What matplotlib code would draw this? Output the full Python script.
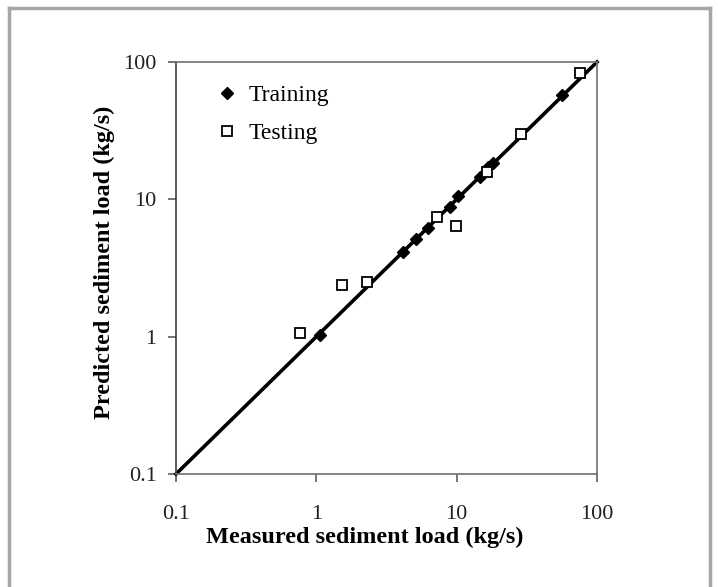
import matplotlib
matplotlib.use("Agg")
import matplotlib.pyplot as plt
from matplotlib.lines import Line2D

# Data
train_measured = [1.06, 4.12, 5.13, 6.2, 8.97, 10.3, 14.7, 16.8, 18.2, 56.0]
train_predicted = [1.03, 4.11, 5.12, 6.15, 8.83, 10.6, 14.6, 17.3, 18.3, 57.5]

test_measured = [0.765, 1.53, 2.28, 7.2, 9.84, 16.4, 28.6, 75.6]
test_predicted = [1.058, 2.38, 2.51, 7.4, 6.4, 15.9, 29.9, 82.8]

line_range = [0.1, 100]
tick_values = [0.1, 1, 10, 100]
tick_labels = ["0.1", "1", "10", "100"]

plt.rcParams['font.family'] = ['Liberation Serif', 'DejaVu Serif']

fig = plt.figure(figsize=(7.18, 5.87), dpi=100)
W, H = 718.0, 587.0
# axes box in pixels: left 176, right 597, top 62, bottom 474
ax = fig.add_axes([176 / W, 1 - 474 / H, (597 - 176) / W, (474 - 62) / H])

ax.plot(line_range, line_range, color='black', lw=2.6, zorder=2, clip_on=False)
ax.plot(train_measured, train_predicted, linestyle='none', marker='D',
        markersize=6, color='black', label='Training', zorder=3)
ax.plot(test_measured, test_predicted, linestyle='none', marker='s',
        markersize=6.5, markerfacecolor='white', markeredgecolor='black',
        markeredgewidth=1.3, label='Testing', zorder=4)

ax.set_xscale('log')
ax.set_yscale('log')
ax.set_xlim(0.1, 100)
ax.set_ylim(0.1, 100)
ax.set_xticks(tick_values)
ax.set_xticklabels(tick_labels)
ax.set_yticks(tick_values)
ax.set_yticklabels(tick_labels)
ax.minorticks_off()

for s in ax.spines.values():
    s.set_color('#707070')
    s.set_linewidth(1.2)
ax.spines['left'].set_color('#404040')

ax.tick_params(axis='both', direction='out', length=6, width=1.1,
               color='#505050', labelsize=16, labelcolor='#222222')
ax.tick_params(axis='x', pad=16)
ax.tick_params(axis='y', pad=8)

ax.set_xlabel('Measured sediment load (kg/s)', fontsize=17.5, fontweight='bold')
ax.set_ylabel('Predicted sediment load (kg/s)', fontsize=17.5, fontweight='bold')
ax.xaxis.set_label_coords(0.449, -0.128)
ax.yaxis.set_label_coords(-0.145, 0.515)

ax.legend(loc='upper left', bbox_to_anchor=(0.077, 0.968), frameon=False,
          fontsize=17, handlelength=0.8, handletextpad=0.5, labelspacing=0.7,
          borderaxespad=0)

# grey outer frame
frame_kw = dict(color='#a6a6a6', lw=2.5, transform=fig.transFigure)
fig.add_artist(Line2D([8.5 / W, 8.5 / W], [0, 1 - 7.5 / H], **frame_kw))
fig.add_artist(Line2D([8.5 / W, 710 / W], [1 - 7.5 / H, 1 - 7.5 / H], **frame_kw))
fig.add_artist(Line2D([710 / W, 710 / W], [0, 1 - 7.5 / H], **frame_kw))

fig.savefig('out.png', dpi=100)
